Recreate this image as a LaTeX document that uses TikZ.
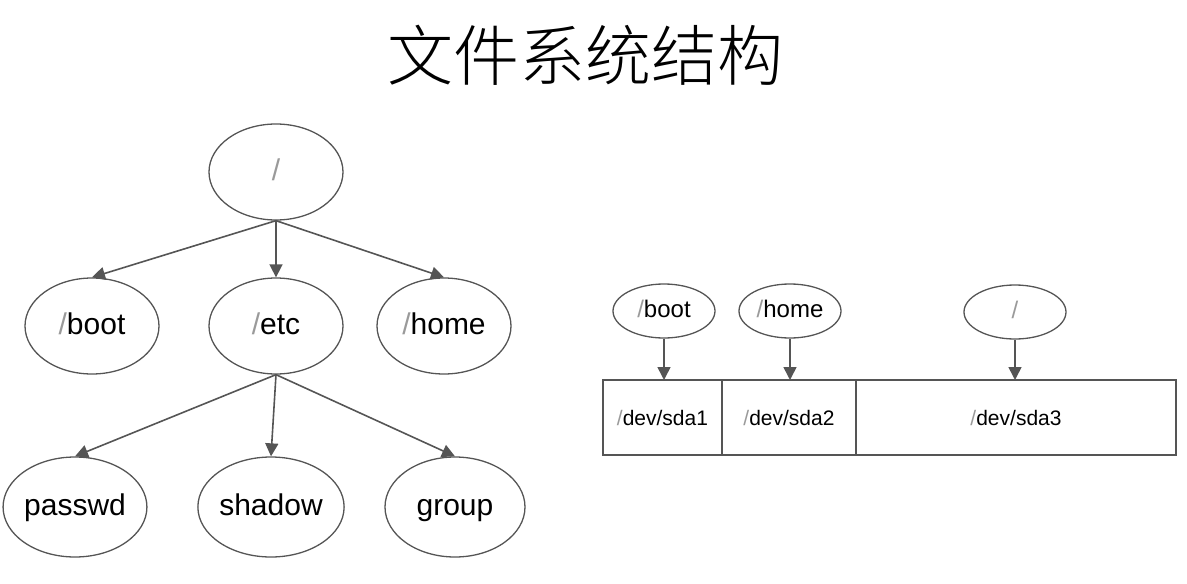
\documentclass[tikz,border=0pt]{standalone}
\usepackage{fontspec}
\setmainfont{Liberation Sans}
\newfontfamily\cjk{Noto Sans CJK SC}[UprightFont=* Light]
\usetikzlibrary{positioning, shapes.geometric, arrows.meta}
\definecolor{linegray}{HTML}{555555}
\definecolor{slashgray}{HTML}{9A9A9A}
\newcommand{\slashmark}{{\color{slashgray}/}}
\tikzset{%
  every dir/.style={
    ellipse,
    draw=linegray,
    line width=1.3pt,
    inner sep=0pt,
    minimum width=134pt,
    minimum height=96pt,
    text height=22pt,
    text depth=6pt,
    font=\fontsize{30}{36}\selectfont
  },
  dir small/.style={
    minimum width=102pt,
    minimum height=54pt,
    text height=17.5pt,
    text depth=4.5pt,
    font=\fontsize{24}{29}\selectfont
  },
  cell/.style={
    rectangle,
    draw=linegray,
    line width=1.1pt,
    outer sep=0pt,
    minimum height=75pt,
    font=\fontsize{21}{25}\selectfont
  },
  link/.style={
    ->,
    draw=linegray,
    line width=1.6pt
  },
}

\begin{document}
\begin{tikzpicture}[x=1pt, y=-1pt, >={Triangle[length=13pt, width=13pt]}]
        \useasboundingbox (0,0) rectangle (1187,584);

        % Title
        \node [font=\cjk\fontsize{66}{72}\selectfont] (title) at (585,55) {文件系统结构};

        %%%%%%%%%%%%%%%%%%%%%%%%%%%%%%%%%%%%%%%%%%%%
        % Directory tree
        %%%%%%%%%%%%%%%%%%%%%%%%%%%%%%%%%%%%%%%%%%%%

        % Drawing
        \node [every dir] (root) at (276,172) {\slashmark};
        \foreach \m/\x in {boot/92, etc/276, home/444}
            \node [every dir] (\m) at (\x,326) {\slashmark\m};
        \foreach \m/\x in {passwd/75, shadow/271, group/455}
            \node [every dir, minimum width=140pt, minimum height=100pt] (\m) at (\x,507) {\m};

        % Connecting
        \foreach \m in {boot, etc, home}
            \draw [link] (root.south) -- (\m.north);
        \foreach \m in {passwd, shadow, group}
            \draw [link] (etc.south) -- (\m.north);

        %%%%%%%%%%%%%%%%%%%%%%%%%%%%%%%%%%%%%%%%%%%%
        % Partitions
        %%%%%%%%%%%%%%%%%%%%%%%%%%%%%%%%%%%%%%%%%%%%

        % Drawing
        \node [cell, minimum width=119pt] (sda-1) at (662.5,417.5) {\slashmark dev/sda1};
        \node [cell, minimum width=134pt, right=0pt of sda-1] (sda-2) {\slashmark dev/sda2};
        \node [cell, minimum width=320pt, right=0pt of sda-2] (sda-3) {\slashmark dev/sda3};

        \foreach \m/\x in {boot/664, home/790}
            \node [every dir, dir small] (mount-\m) at (\x,311) {\slashmark\m};
        \node [every dir, dir small] (mount-root) at (1015,312) {\slashmark};

        % Connecting
        \foreach \m/\i in {boot/1, home/2, root/3}
            \draw [link] (mount-\m.south) -- (mount-\m.south |- sda-\i.north);
\end{tikzpicture}
\end{document}
